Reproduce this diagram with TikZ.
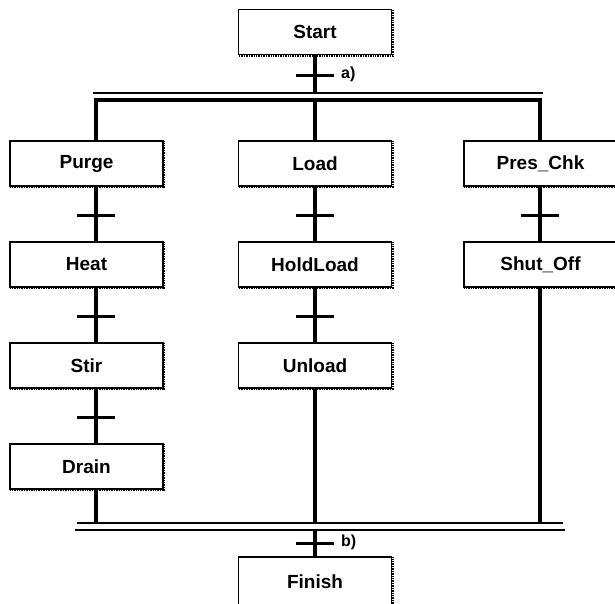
\documentclass[tikz,border=0pt]{standalone}
\usepackage{fontspec}
\setmainfont{Liberation Sans}
\begin{document}
\begin{tikzpicture}[x=1pt,y=-1pt,
  stepbox/.style={draw=black, line width=1.1pt, fill=white,
    minimum width=153pt, minimum height=45pt, inner sep=0pt,
    font=\fontsize{19}{22}\selectfont\bfseries},
  grain/.style={draw=black, line width=2.2pt, dash pattern=on 1pt off 0.7pt},
  flow/.style={line width=3.2pt},
  bar/.style={line width=2.6pt},
  tick/.style={line width=3pt},
  lbl/.style={font=\fontsize{16}{19}\selectfont\bfseries, inner sep=0pt, anchor=west}]
\useasboundingbox (0,0) rectangle (615,603);
\clip (0,0) rectangle (615,603);

% steps
\node[stepbox] (start)  at (315,32)    {Start};
\node[stepbox] (purge)  at (86.5,163.5) {Purge};
\node[stepbox] (load)   at (315,163.5)  {Load};
\node[stepbox] (pres)   at (540.5,163.5) {Pres\_Chk};
\node[stepbox] (heat)   at (86.5,264.5) {Heat};
\node[stepbox] (hold)   at (315,264.5)  {HoldLoad};
\node[stepbox] (shut)   at (540.5,264.5) {Shut\_Off};
\node[stepbox] (stir)   at (86.5,365.5) {Stir};
\node[stepbox] (unload) at (315,365.5)  {Unload};
\node[stepbox] (drain)  at (86.5,466.5) {Drain};
\node[stepbox, minimum height=50pt] (finish) at (315,582)  {Finish};

% grainy shadow along the right and bottom edges
\foreach \n in {start,purge,load,pres,heat,hold,shut,stir,unload,drain,finish}
  \draw[grain] ([xshift=0.8pt,yshift=-1pt]\n.north east) -- ([xshift=0.8pt,yshift=-0.8pt]\n.south east) -- ([xshift=1pt,yshift=-0.8pt]\n.south west);

% branch points on the parallel bars
\coordinate (tl) at (96,100);
\coordinate (tr) at (540,100);
\coordinate (bl) at (96,523);
\coordinate (br) at (540,523);
\coordinate (topbar) at (315,93);
\coordinate (topin) at (315,100);
\coordinate (botbar) at (315,523);
\coordinate (botout) at (315,530);

% parallel (AND) divergence
\draw[bar] (93,93) -- (543,93);
\draw[flow] (start.south) -- (topbar);
\draw[flow] (purge.north -| tl) -- (tl) -- (tr) -- (pres.north -| tr);
\draw[flow] (topin) -- (load.north);

% parallel (AND) convergence
\draw[bar] (77,523) -- (563,523);
\draw[bar] (75,530) -- (565,530);
\draw[flow] (botout) -- (finish.north);

% left branch
\draw[flow] (purge.south -| tl) -- (heat.north -| tl);
\draw[flow] (heat.south -| tl) -- (stir.north -| tl);
\draw[flow] (stir.south -| tl) -- (drain.north -| tl);
\draw[flow] (drain.south -| tl) -- (bl);

% middle branch
\draw[flow] (load.south) -- (hold.north);
\draw[flow] (hold.south) -- (unload.north);
\draw[flow] (unload.south) -- (botbar);

% right branch
\draw[flow] (pres.south -| tr) -- (shut.north -| tr);
\draw[flow] (shut.south -| tr) -- (br);

% transitions
\draw[tick] (296,75) -- (334,75);
\node[lbl] (la) at (341,74) {a)};
\foreach \x in {96,315,540} \draw[tick] (\x-19,215) -- (\x+19,215);
\foreach \x in {96,315} \draw[tick] (\x-19,316) -- (\x+19,316);
\draw[tick] (77,417) -- (115,417);
\draw[tick] (296,543) -- (334,543);
\node[lbl] (lb) at (341,542) {b)};
\end{tikzpicture}
\end{document}
